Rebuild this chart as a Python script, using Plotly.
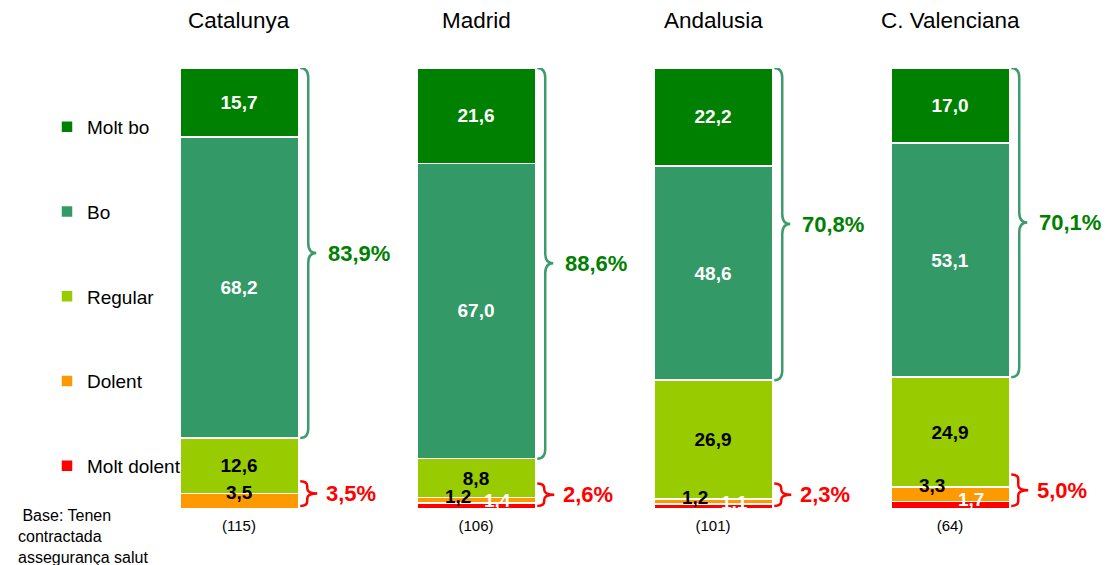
import plotly.graph_objects as go

regions = ["Catalunya", "Madrid", "Andalusia", "C. Valenciana"]
bases = ["(115)", "(106)", "(101)", "(64)"]

molt_dolent = [0.0, 1.4, 1.1, 1.7]
dolent = [3.5, 1.2, 1.2, 3.3]
regular = [12.6, 8.8, 26.9, 24.9]
bo = [68.2, 67.0, 48.6, 53.1]
molt_bo = [15.7, 21.6, 22.2, 17.0]

series_names = ["Molt dolent", "Dolent", "Regular", "Bo", "Molt bo"]
colors = ["#FF0000", "#FF9900", "#99CC00", "#339966", "#008000"]

FONT = "Liberation Sans, Arial, sans-serif"
W, H = 1112, 565
ML, MR, MT, MB = 0, 0, 68, 56
PX_X = 237.0            # pixels per category unit
PX_Y = (H - MT - MB) / 100.0
X0PX = 239.0            # pixel of first bar centre
BAR_W = 0.5


def fmt(v):
    return f"{v:.1f}".replace(".", ",")


x = list(range(len(regions)))
fig = go.Figure()

all_series = [molt_dolent, dolent, regular, bo, molt_bo]
text_colors = [None, None, "black", "white", "white"]
n = len(series_names)
for k, (name, vals, col, tcol) in enumerate(zip(series_names, all_series, colors, text_colors)):
    if tcol:
        kw = dict(text=[fmt(v) for v in vals], textposition="inside",
                  insidetextanchor="middle", textangle=0,
                  textfont=dict(color=tcol, size=19, family=FONT, weight="bold"),
                  constraintext="none")
    else:
        kw = dict(textposition="none")
    fig.add_trace(go.Bar(
        x=x, y=vals, name=name, width=BAR_W, legendgroup=name,
        legendrank=n - k,
        marker=dict(color=col, line=dict(color="white", width=1.5)),
        hoverinfo="skip", **kw))

annotations = []
shapes = []


def brace_path(xb, ylo, yhi, dx1, dx2, r):
    X0 = xb + 2 / PX_X
    X1 = xb + dx1 / PX_X
    X2 = xb + dx2 / PX_X
    ry = r / PX_Y
    ym = (ylo + yhi) / 2
    return (f"M {X0},{yhi} Q {X1},{yhi} {X1},{yhi - ry} "
            f"L {X1},{ym + ry} Q {X1},{ym} {X2},{ym} "
            f"Q {X1},{ym} {X1},{ym - ry} "
            f"L {X1},{ylo + ry} Q {X1},{ylo} {X0},{ylo}")


for i in range(len(regions)):
    xb = i + BAR_W / 2
    # small segment labels
    d_top = molt_dolent[i] + dolent[i]
    annotations.append(dict(
        x=i, y=d_top, xref="x", yref="y", text=fmt(dolent[i]), showarrow=False,
        xshift=(-18 if molt_dolent[i] > 0 else 0), yshift=1, yanchor="middle",
        font=dict(color="black", size=19, family=FONT, weight="bold")))
    if molt_dolent[i] > 0:
        annotations.append(dict(
            x=i, y=molt_dolent[i], xref="x", yref="y", text=fmt(molt_dolent[i]),
            showarrow=False, xshift=21, yshift=2, yanchor="middle",
            font=dict(color="white", size=19, family=FONT, weight="bold")))
    # green brace (Bo + Molt bo)
    good = bo[i] + molt_bo[i]
    g_lo = 100 - good
    shapes.append(dict(type="path", xref="x", yref="y",
                       path=brace_path(xb, g_lo, 100, 10, 18, 10),
                       line=dict(color="#3d9b6e", width=2.5)))
    annotations.append(dict(
        x=xb, y=(g_lo + 100) / 2, xref="x", yref="y", text=fmt(good) + "%",
        showarrow=False, xanchor="left", yanchor="middle", xshift=28,
        font=dict(color="#008000", size=22, family=FONT, weight="bold")))
    # red brace (Dolent + Molt dolent)
    bad = dolent[i] + molt_dolent[i]
    r_lo = 0.7
    r_hi = max(bad, 3) + 2.8
    shapes.append(dict(type="path", xref="x", yref="y",
                       path=brace_path(xb, r_lo, r_hi, 9, 19, 5),
                       line=dict(color="#FF0000", width=2.5)))
    annotations.append(dict(
        x=xb, y=(r_lo + r_hi) / 2, xref="x", yref="y", text=fmt(bad) + "%",
        showarrow=False, xanchor="left", yanchor="middle", xshift=26,
        font=dict(color="#FF0000", size=22, family=FONT, weight="bold")))
    # region title
    annotations.append(dict(
        x=i, y=(H - MB - 20) / (H - MT - MB), xref="x", yref="paper",
        text=regions[i], showarrow=False, yanchor="middle",
        font=dict(color="black", size=22.5, family=FONT)))

annotations.append(dict(
    x=16 / W, y=4 / (H - MT - MB), xref="paper", yref="paper",
    text="&nbsp;Base: Tenen<br>contractada<br>assegurança salut",
    showarrow=False, xanchor="left", yanchor="top", align="left",
    font=dict(color="black", size=16, family=FONT)))

fig.update_layout(
    width=W, height=H, barmode="stack",
    margin=dict(l=ML, r=MR, t=MT, b=MB),
    paper_bgcolor="white", plot_bgcolor="white",
    xaxis=dict(range=[-X0PX / PX_X, (W - X0PX) / PX_X], tickmode="array",
               tickvals=x, ticktext=bases, showgrid=False, zeroline=False,
               showline=False, ticks="", ticklabelstandoff=6,
               tickfont=dict(size=15, family=FONT, color="black")),
    yaxis=dict(range=[0, 100], visible=False),
    showlegend=True,
    legend=dict(x=47 / W, xanchor="left", y=(H - MB - 108) / (H - MT - MB),
                yanchor="top", traceorder="grouped", tracegroupgap=57,
                font=dict(size=19, family=FONT, color="black"),
                bgcolor="rgba(0,0,0,0)"),
    annotations=annotations, shapes=shapes,
    font=dict(family=FONT),
)

fig.write_html("out.html", config={"displayModeBar": False},
               post_script="document.body.style.margin='0';")
